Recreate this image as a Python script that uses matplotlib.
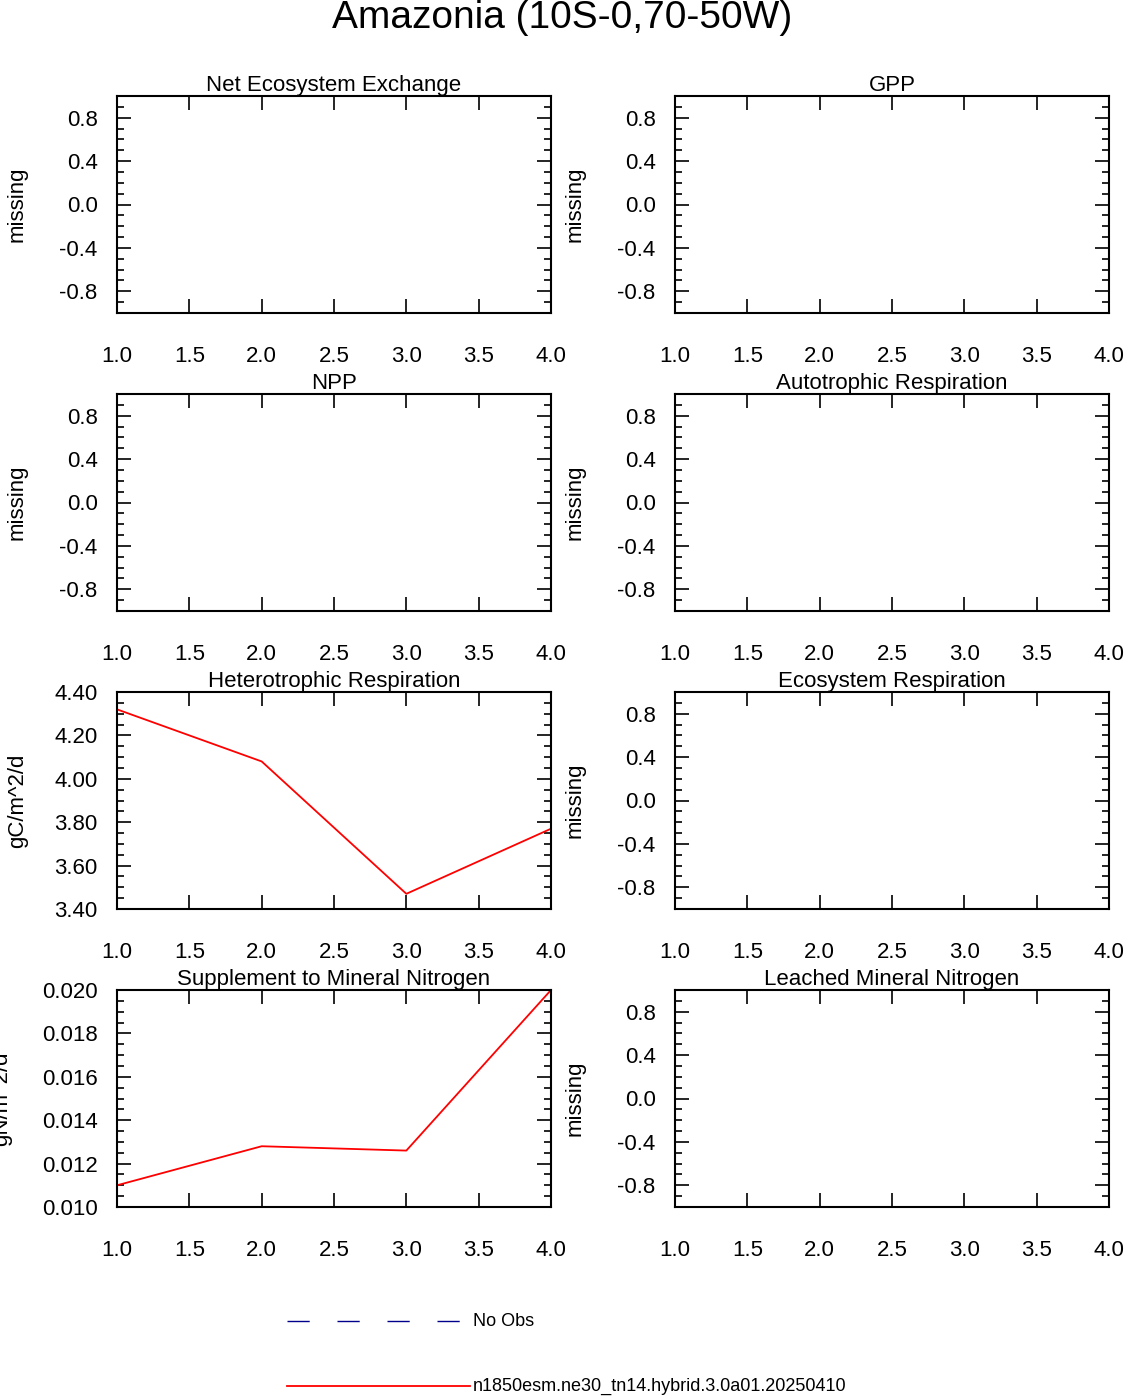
import matplotlib
matplotlib.use("Agg")
import matplotlib.pyplot as plt
from matplotlib.lines import Line2D
from matplotlib.ticker import MultipleLocator, FormatStrFormatter

plt.rcParams["font.family"] = ["Liberation Sans", "DejaVu Sans"]

x = [1.0, 2.0, 3.0, 4.0]
titles = ["Net Ecosystem Exchange", "GPP", "NPP", "Autotrophic Respiration",
          "Heterotrophic Respiration", "Ecosystem Respiration",
          "Supplement to Mineral Nitrogen", "Leached Mineral Nitrogen"]
het_resp = [4.32, 4.08, 3.47, 3.77]
sminn = [0.0110, 0.0128, 0.0126, 0.0200]
run_name = "n1850esm.ne30_tn14.hybrid.3.0a01.20250410"

W, H = 1124, 1396
fig = plt.figure(figsize=(W / 100, H / 100), dpi=100)
fig.text(0.5, 1 - 18 / H, "Amazonia (10S-0,70-50W)", ha="center", va="center", fontsize=28)

lefts = [117, 675]
bottoms = [313, 611, 909, 1207]
for i, title in enumerate(titles):
    r, c = divmod(i, 2)
    ax = fig.add_axes([lefts[c] / W, 1 - bottoms[r] / H, 434 / W, 217 / H])
    ax.set_xlim(1, 4)
    ax.xaxis.set_major_locator(MultipleLocator(0.5))
    ax.xaxis.set_major_formatter(FormatStrFormatter("%.1f"))
    if i == 4:
        ax.plot(x, het_resp, color="red", lw=1.3)
        ax.set_ylim(3.4, 4.4)
        ax.yaxis.set_major_locator(MultipleLocator(0.2))
        ax.yaxis.set_minor_locator(MultipleLocator(0.05))
        ax.yaxis.set_major_formatter(FormatStrFormatter("%.2f"))
        ax.set_ylabel("gC/m^2/d", fontsize=16)
    elif i == 6:
        ax.plot(x, sminn, color="red", lw=1.3)
        ax.set_ylim(0.010, 0.020)
        ax.yaxis.set_major_locator(MultipleLocator(0.002))
        ax.yaxis.set_minor_locator(MultipleLocator(0.0005))
        ax.yaxis.set_major_formatter(FormatStrFormatter("%.3f"))
        ax.set_ylabel("gN/m^2/d", fontsize=16)
    else:
        ax.set_ylim(-1, 1)
        ax.set_yticks([-0.8, -0.4, 0.0, 0.4, 0.8])
        ax.yaxis.set_minor_locator(MultipleLocator(0.1))
        ax.yaxis.set_major_formatter(FormatStrFormatter("%.1f"))
        ax.set_ylabel("missing", fontsize=16)
    ax.yaxis.set_label_coords(-(117 - 28) / 434 if i != 6 else -(117 - 12) / 434, 0.5)
    ax.set_title(title, fontsize=16, pad=3)
    ax.tick_params(which="both", direction="in", top=True, right=True, labelsize=16, width=1.2)
    ax.tick_params(which="major", length=10)
    ax.tick_params(which="minor", length=5)
    ax.tick_params(axis="x", pad=24)
    ax.tick_params(axis="y", pad=14)
    for s in ax.spines.values():
        s.set_linewidth(1.5)

fig.add_artist(Line2D([287 / W, 470 / W], [1 - 1321 / H] * 2, color="#00008b",
                      lw=1, dashes=(16, 20)))
fig.text(473 / W, 1 - 1321 / H, "No Obs", va="center", fontsize=13)
fig.add_artist(Line2D([287 / W, 470 / W], [1 - 1386 / H] * 2, color="red", lw=1.3))
fig.text(473 / W, 1 - 1386 / H, run_name, va="center", fontsize=13)

fig.savefig("out.png", dpi=100)
